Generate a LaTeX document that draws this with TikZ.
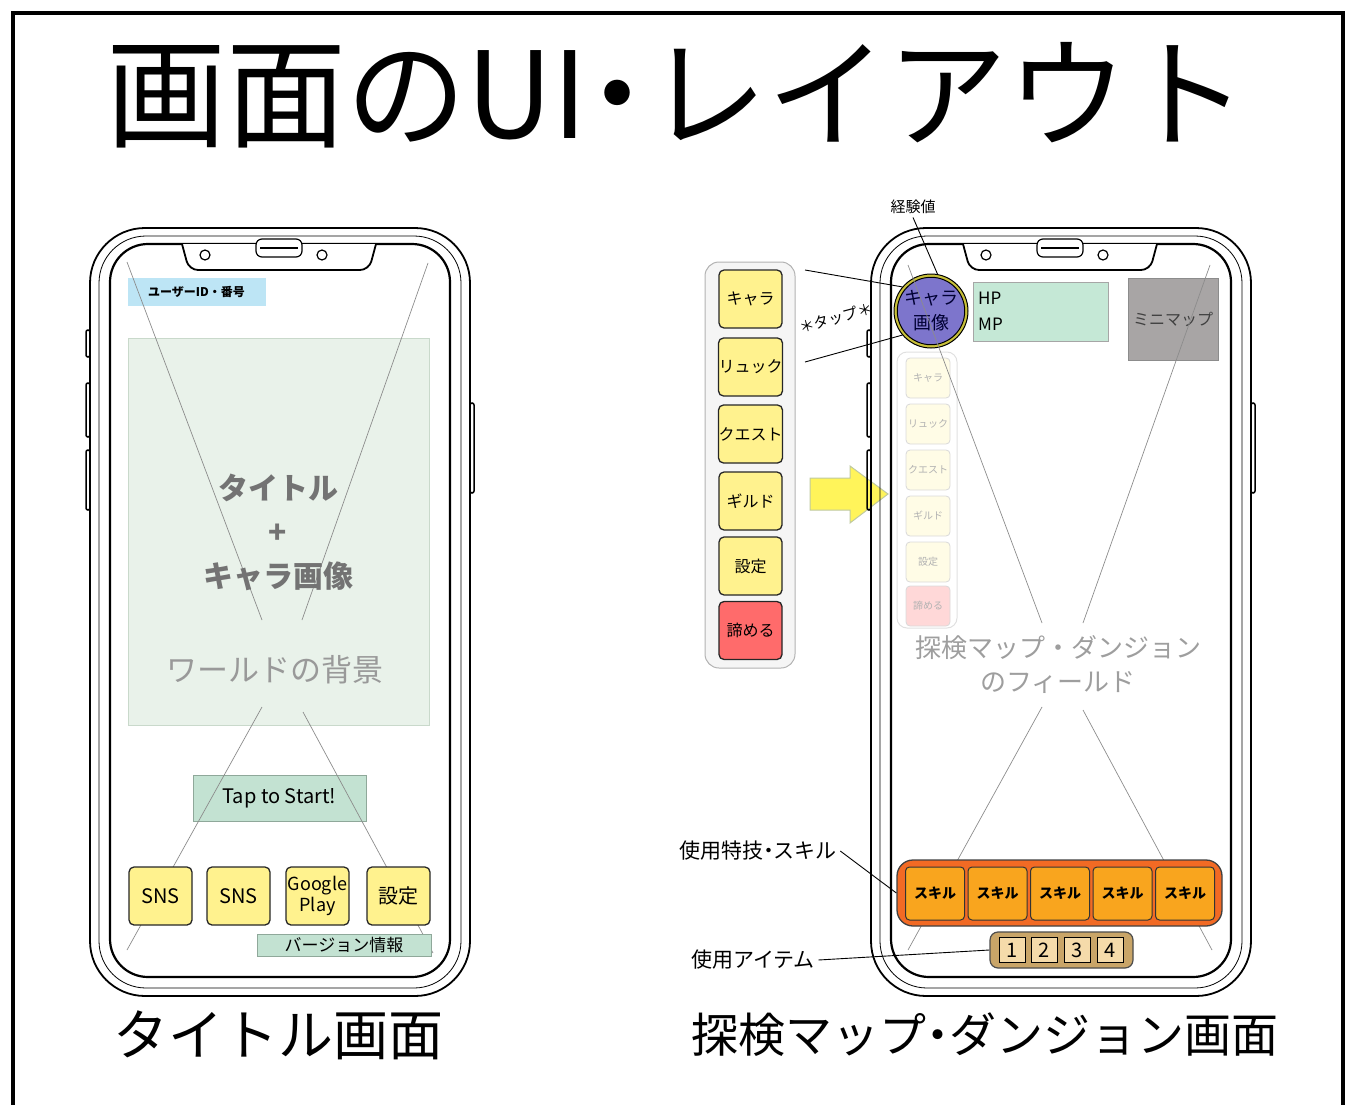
\documentclass[tikz,border=0pt]{standalone}
\usepackage{fontspec}
\setmainfont{Noto Sans CJK JP}
\usetikzlibrary{arrows.meta,positioning}

\definecolor{uidblue}{HTML}{BDE5F5}
\definecolor{bggreen}{HTML}{E9F2EA}
\definecolor{bgedge}{HTML}{C9D9CB}
\definecolor{tapgreen}{HTML}{C3E2D2}
\definecolor{tapedge}{HTML}{8FA89A}
\definecolor{btnyellow}{HTML}{FFF28E}
\definecolor{btnred}{HTML}{FF6B6B}
\definecolor{charapurple}{HTML}{7D75CC}
\definecolor{chararing}{HTML}{C9C13A}
\definecolor{hpgreen}{HTML}{C5E8D6}
\definecolor{mapgray}{HTML}{A8A5A5}
\definecolor{skillred}{HTML}{F26A24}
\definecolor{skillorange}{HTML}{F9A51E}
\definecolor{itembrown}{HTML}{C9A568}
\definecolor{itemtan}{HTML}{F5DBAA}
\definecolor{arrowyellow}{HTML}{FFF45A}
\definecolor{arrowedge}{HTML}{BFC9A0}
\definecolor{fadeyellow}{HTML}{FFFCE6}
\definecolor{fadered}{HTML}{FFD8D8}

\newcommand{\fsz}[1]{\fontsize{#1}{#1}\selectfont}
\newcommand{\halfdot}{{\addfontfeatures{RawFeature=+palt}・}}

\newcommand{\phoneframe}[1]{%
  \begin{scope}[shift={(#1,0)}]
    % side keys
    \foreach \ya/\yb in {330/357,383/437,450/510}
      \draw[keyline] (-4,\ya) rectangle (0,\yb);
    \draw[keyline] (380,403) rectangle (384,493);
    % body, bezel, screen
    \draw[phoneline,rounded corners=55pt] (0,228) rectangle (380,996);
    \draw[line width=0.8pt,rounded corners=47pt] (9,236) rectangle (371,988);
    \draw[phoneline,line width=2.2pt,rounded corners=38pt] (20,244) rectangle (360,977);
    % notch
    \draw[phoneline,fill=white,rounded corners=9pt] (92,244) -- (99,270) -- (279,270) -- (286,244);
    \draw[line width=1.2pt,fill=white,rounded corners=6pt] (166,239) rectangle (212,257);
    \draw[line width=1.2pt] (170,248) -- (208,248);
    \draw[line width=1.2pt] (115,255) circle[radius=5];
    \draw[line width=1.2pt] (232,255) circle[radius=5];
  \end{scope}}

\begin{document}
\begin{tikzpicture}[x=1pt,y=-1pt,
  phoneline/.style={draw=black,line width=1.8pt},
  keyline/.style={draw=black,line width=1.5pt,rounded corners=2pt},
  xline/.style={draw=black!45,line width=0.7pt},
  wire/.style={draw=black,line width=0.9pt},
  flatbox/.style={draw=#1,line width=0.8pt,inner sep=0pt},
  ybtn/.style={draw=black!85,line width=1.3pt,rounded corners=5pt,fill=btnyellow,
    inner sep=0pt,minimum width=63pt,minimum height=58pt},
  fadebtn/.style={draw=black!15,line width=0.8pt,rounded corners=4pt,fill=fadeyellow,
    inner sep=0pt,minimum width=44pt,minimum height=40pt,text=black!30,font=\fsz{10}},
  skillbtn/.style={draw=black!80,line width=1pt,rounded corners=4pt,fill=skillorange,
    inner sep=0pt,minimum width=59pt,minimum height=53pt,font=\fsz{14}\bfseries},
  itembox/.style={draw=black,line width=1pt,fill=itemtan,inner sep=0pt,
    minimum width=26pt,minimum height=25pt,font=\fsz{20}},
  caption/.style={inner sep=0pt}
]
\useasboundingbox (0,0) rectangle (1347,1105);
\draw[line width=4pt] (13,13) rectangle (1343,1130);

\node[inner sep=0pt,font=\fsz{120}] (title) at (677,95) {画面のUI\halfdot レイアウト};

% title screen
\node[flatbox=bgedge,fill=bggreen,minimum width=301pt,minimum height=387pt] (world) at (278.5,531.5) {};
\node[flatbox=uidblue,fill=uidblue,minimum width=137pt,minimum height=27pt,
  font=\fsz{12}\bfseries] (uid) at (196.5,291.5) {ユーザーID・番号};
\node[flatbox=tapedge,fill=tapgreen,minimum width=173pt,minimum height=46pt,
  font=\fsz{20}] (tap) at (279.5,798) {Tap to Start!};
\draw[xline] (127,262) -- (262,620);
\draw[xline] (428,263) -- (302,620);
\draw[xline] (262,707) -- (127,950);
\draw[xline] (303,712) -- (433,953);
\node[align=center,text=black!55,font=\fontsize{30}{44}\selectfont\bfseries] (titletxt) at (278,532) {タイトル\\+\\キャラ画像};
\node[text=black!40,font=\fsz{31}] (worldtxt) at (275,670) {ワールドの背景};
\node[ybtn,font=\fsz{20}] (sns1) at (160.5,896) {SNS};
\node[ybtn,font=\fsz{20}] (sns2) at (238.5,896) {SNS};
\node[ybtn,align=center,font=\fontsize{18}{21}\selectfont] (gplay) at (317.5,896) {Google\\Play};
\node[ybtn,font=\fsz{20}] (conf) at (398.5,896) {設定};
\node[flatbox=tapedge,fill=tapgreen,minimum width=174pt,minimum height=22pt,
  font=\fsz{17}] (ver) at (344,945) {バージョン情報};
\phoneframe{90}

% dungeon screen
\draw[draw=arrowedge,line width=1pt,fill=arrowyellow] (810,478) -- (850,478) -- (850,466)
  -- (888,494) -- (850,523) -- (850,510) -- (810,510) -- cycle;
\phoneframe{871}

\node[draw=black!30,line width=1pt,rounded corners=14pt,fill=black!4,minimum width=90pt,
  minimum height=406pt,inner sep=0pt] (menu) at (750,465) {};
\foreach \i/\yy/\txt in {1/299/キャラ,2/367/リュック,3/434/クエスト,4/501/ギルド,5/566/設定}
  \node[ybtn,font=\fsz{16}] (m\i) at (750.5,\yy) {\txt};
\node[ybtn,fill=btnred,font=\fsz{16}] (m6) at (750.5,630.5) {諦める};

\node[draw=black!12,line width=1pt,rounded corners=10pt,minimum width=60pt,
  minimum height=276pt,inner sep=0pt] (fmenu) at (927,490) {};
\foreach \i/\yy/\txt in {1/378/キャラ,2/424/リュック,3/470/クエスト,4/516/ギルド,5/562/設定}
  \node[fadebtn] (f\i) at (928,\yy) {\txt};
\node[fadebtn,fill=fadered] (f6) at (928,606) {諦める};

\node[circle,draw=black,line width=1pt,fill=chararing,minimum size=74pt,inner sep=0pt] (charaimg) at (931,311) {};
\node[circle,draw=black,line width=1pt,fill=charapurple,minimum size=63pt,inner sep=0pt,
  align=center,text=black!80!blue,font=\fontsize{18}{25}\selectfont] (charatxt) at (charaimg) {キャラ\\画像};

\node[flatbox=black!35,fill=hpgreen,minimum width=135pt,minimum height=59pt] (hpmp) at (1040.5,311.5) {};
\node[anchor=west,inner sep=0pt,font=\fsz{17}] (hp) at (978,298) {HP};
\node[anchor=west,inner sep=0pt,font=\fsz{17}] (mp) at (978,324) {MP};
\node[flatbox=black!45,fill=mapgray,minimum width=90pt,minimum height=82pt,
  text=black!75,font=\fsz{16}] (minimap) at (1173,319) {ミニマップ};

\draw[xline] (908,265) -- (1042,623);
\draw[xline] (1210,265) -- (1083,623);
\draw[xline] (1042,707) -- (908,950);
\draw[xline] (1083,710) -- (1212,950);
\node[align=center,text=black!38,font=\fontsize{26}{34}\selectfont] (field) at (1058,665) {探検マップ・ダンジョン\\のフィールド};

\node[font=\fsz{15}] (exp) at (913,207) {経験値};
\draw[wire] (exp.south) -- (charaimg.80);
\coordinate (tapA) at (805,270);
\coordinate (tapB) at (805,362);
\draw[wire] (tapA) -- (charaimg.140);
\draw[wire] (tapB) -- (charaimg.220);
\node[rotate=15,font=\fsz{15}] (tapnote) at (836,318) {＊タップ＊};

\node[draw=black!75,line width=1.3pt,rounded corners=16pt,fill=skillred,minimum width=325pt,
  minimum height=66pt,inner sep=0pt] (skillbar) at (1059.5,893) {};
\foreach \i in {0,...,4}
  \node[skillbtn] (s\i) at ({935+62.5*\i},893.5) {スキル};
\node[draw=black!70,line width=1.2pt,rounded corners=8pt,fill=itembrown,minimum width=143pt,
  minimum height=36pt,inner sep=0pt] (itembar) at (1061.5,950) {};
\foreach \i/\xx in {1/1012,2/1044,3/1077,4/1110}
  \node[itembox] (it\i) at (\xx,950) {\i};

\node[font=\fsz{21}] (skilllbl) at (758,851) {使用特技\halfdot スキル};
\draw[wire] (skilllbl.east) -- (skillbar.west);
\node[font=\fsz{21}] (itemlbl) at (753,960) {使用アイテム};
\draw[wire] (itemlbl.east) -- (itembar.west);

\node[caption,font=\fsz{55}] (cap1) at (278,1035) {タイトル画面};
\node[caption,font=\fsz{47}] (cap2) at (985,1035) {探検マップ\halfdot ダンジョン画面};
\end{tikzpicture}
\end{document}
